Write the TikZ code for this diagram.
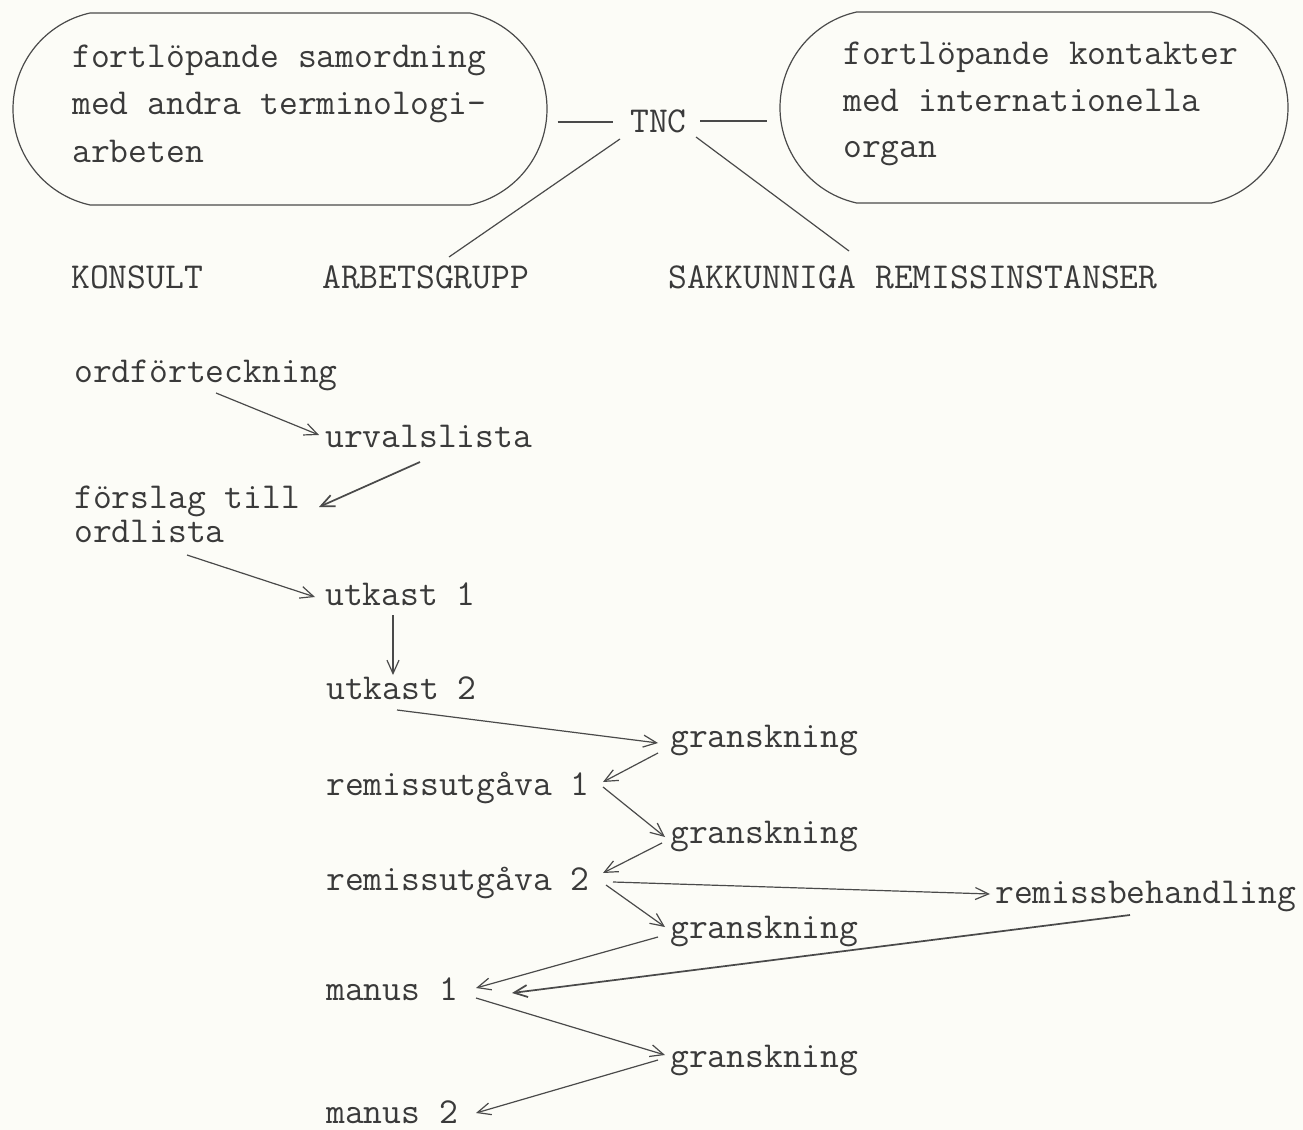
\documentclass[tikz,border=0pt]{standalone}
\usepackage{fontspec}
\usetikzlibrary{arrows.meta,shapes.misc}
\definecolor{paper}{HTML}{FCFCF7}
\definecolor{ink}{HTML}{3A3A3A}
\definecolor{pen}{HTML}{4A4A4A}
\begin{document}
\begin{tikzpicture}[x=0.75pt,y=-0.75pt,
  font=\ttfamily\fontsize{27.4pt}{35pt}\selectfont,
  lbl/.style={inner sep=0pt,anchor=base west,text=ink},
  pill/.style={draw=pen,line width=0.9pt,rounded rectangle,rounded rectangle arc length=155,inner sep=0pt},
  link/.style={draw=pen,line width=0.9pt},
  flow/.style={draw=pen,line width=0.9pt,-{Straight Barb[length=10pt,width=9pt]}},
  bold flow/.style={flow,line width=1.3pt}]
\fill[paper] (0,0) rectangle (1303,1130);
\useasboundingbox (0,0) rectangle (1303,1130);
% top: pills and TNC
\node[pill,minimum width=400.5pt,minimum height=144pt] (pillL) at (280,109) {};
\node[pill,minimum width=381pt,minimum height=143.25pt] (pillR) at (1034,107.5) {};
\node[lbl] (l1) at (72,68) {fortlöpande samordning};
\node[lbl] (l2) at (72,115) {med andra terminologi-};
\node[lbl] (l3) at (72,163) {arbeten};
\node[lbl] (r1) at (843,65) {fortlöpande kontakter};
\node[lbl] (r2) at (843,112) {med internationella};
\node[lbl] (r3) at (843,158) {organ};
\node[lbl] (tnc) at (630,133) {TNC};
\node[lbl] (kon) at (71,289) {KONSULT};
\node[lbl] (arb) at (322,289) {ARBETSGRUPP};
\node[lbl] (sak) at (668,289) {SAKKUNNIGA REMISSINSTANSER};
\draw[link] ([shift={(10,13)}]pillL.east) -- ([shift={(-17,-11)}]tnc.base west);
\draw[link] ([shift={(70,-12)}]tnc.base west) -- ([shift={(-12,13.5)}]pillR.west);
\draw[link] ([shift={(-10,6)}]tnc.base west) -- ([shift={(127,-32)}]arb.base west);
\draw[link] ([shift={(66,4)}]tnc.base west) -- ([shift={(181,-38)}]sak.base west);
% flow
\node[lbl] (ord) at (74,383) {ordförteckning};
\node[lbl] (urv) at (325,447) {urvalslista};
\node[lbl] (forsl) at (74,508) {förslag till};
\node[lbl] (ordl) at (74,542) {ordlista};
\node[lbl] (utk1) at (325,605) {utkast 1};
\node[lbl] (utk2) at (326,699) {utkast 2};
\node[lbl] (gr1) at (670,747) {granskning};
\node[lbl] (rem1) at (326,795) {remissutgåva 1};
\node[lbl] (gr2) at (670,843) {granskning};
\node[lbl] (rem2) at (326,890) {remissutgåva 2};
\node[lbl] (rb) at (995,903) {remissbehandling};
\node[lbl] (gr3) at (670,938) {granskning};
\node[lbl] (man1) at (326,1000) {manus 1};
\node[lbl] (gr4) at (670,1067) {granskning};
\node[lbl] (man2) at (326,1123) {manus 2};
\draw[flow] ([shift={(142,10)}]ord.base west) -- ([shift={(-6,-12)}]urv.base west);
\draw[bold flow] ([shift={(95,15)}]urv.base west) -- ([shift={(245,-1)}]forsl.base west);
\draw[flow] ([shift={(113,13)}]ordl.base west) -- ([shift={(-10,-8)}]utk1.base west);
\draw[flow] ([shift={(68,10)}]utk1.base west) -- ([shift={(67,-24)}]utk2.base west);
\draw[flow] ([shift={(71,11)}]utk2.base west) -- ([shift={(-12,-4)}]gr1.base west);
\draw[flow] ([shift={(-12,6)}]gr1.base west) -- ([shift={(277,-13)}]rem1.base west);
\draw[flow] ([shift={(277,-8)}]rem1.base west) -- ([shift={(-5,-6)}]gr2.base west);
\draw[flow] ([shift={(-8,0)}]gr2.base west) -- ([shift={(277,-17)}]rem2.base west);
\draw[flow] ([shift={(287,-8)}]rem2.base west) -- ([shift={(-5,-9)}]rb.base west);
\draw[flow] ([shift={(280,-5)}]rem2.base west) -- ([shift={(-5,-11)}]gr3.base west);
\draw[flow] ([shift={(-12,-1)}]gr3.base west) -- ([shift={(150,-12)}]man1.base west);
\draw[bold flow] ([shift={(135,12)}]rb.base west) -- ([shift={(186,-7)}]man1.base west);
\draw[flow] ([shift={(150,-2)}]man1.base west) -- ([shift={(-5,-12)}]gr4.base west);
\draw[flow] ([shift={(-12,-7)}]gr4.base west) -- ([shift={(150,-10)}]man2.base west);
\end{tikzpicture}
\end{document}
